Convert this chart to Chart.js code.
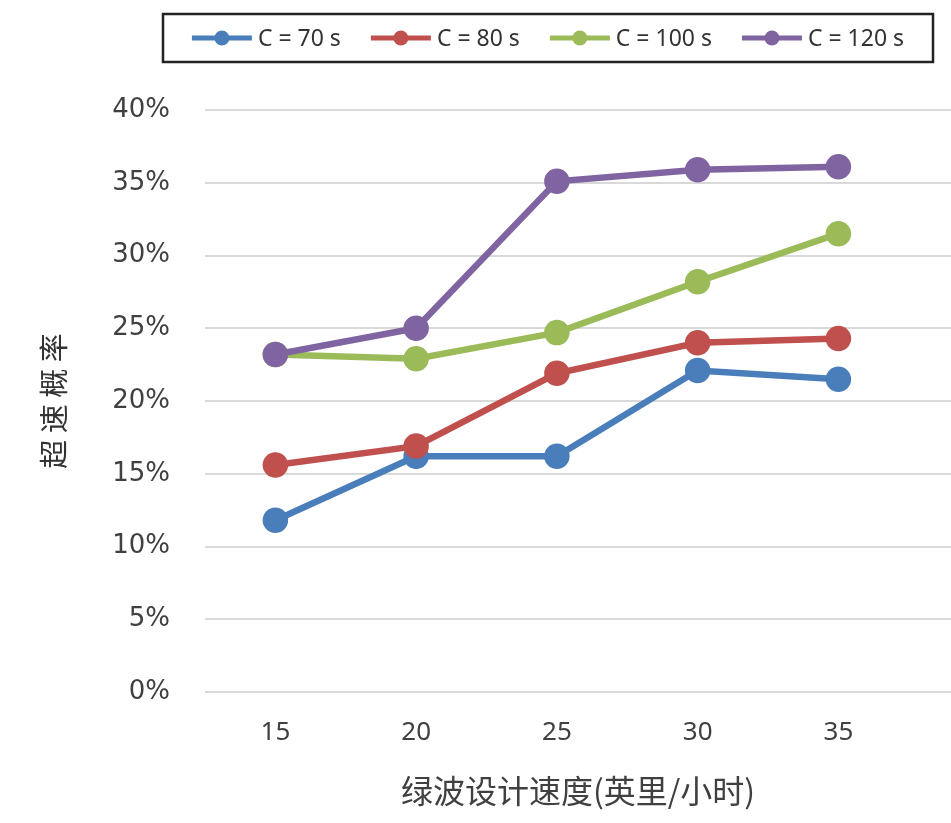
<!DOCTYPE html>
<html lang="zh-CN">
<head>
<meta charset="utf-8">
<title>超速概率</title>
<script src="https://cdn.jsdelivr.net/npm/chart.js@4.4.1/dist/chart.umd.min.js"></script>
<style>
    html, body { margin: 0; padding: 0; background: #fff; overflow: hidden; }
    #wrap { width: 951px; height: 823px; }
</style>
</head>
<body>
<div id="wrap"><canvas id="chart-overspeed" width="951" height="823"></canvas></div>
<script>
// datos
const VELOCIDADES = [15, 20, 25, 30, 35];
const SERIES_LABELS = ['C = 70 s', 'C = 80 s', 'C = 100 s', 'C = 120 s'];
const C70 = [11.8, 16.2, 16.2, 22.1, 21.5];
const C80 = [15.6, 16.9, 21.9, 24.0, 24.3];
const C100 = [23.2, 22.9, 24.7, 28.2, 31.5];
const C120 = [23.2, 25.0, 35.1, 35.9, 36.1];
const Y_TICKS = [0, 5, 10, 15, 20, 25, 30, 35, 40];

const SERIES_COLORS = ['#4a7ebb', '#c0504d', '#9bbb59', '#8064a2'];
const SERIES_DATA = [C70, C80, C100, C120];

// leyenda con marco, dibujada a mano
const boxLegend = {
    id: 'boxLegend',
    afterDraw(chart, args, opts) {
        const ctx = chart.ctx;
        const { x, y, w, h } = opts.box;
        ctx.save();
        ctx.lineWidth = 2.5;
        ctx.strokeStyle = '#222';
        ctx.strokeRect(x, y, w, h);

        ctx.font = opts.font;
        const lineLen = 60, gapText = 6, gapItem = 30;
        const items = chart.data.datasets.map(ds => ({
            label: ds.label,
            color: ds.borderColor,
            width: lineLen + gapText + ctx.measureText(ds.label).width,
        }));
        const total = items.reduce((a, it) => a + it.width, 0) + gapItem * (items.length - 1);
        let cx = x + (w - total) / 2;
        const cy = y + h / 2;
        items.forEach(it => {
            ctx.strokeStyle = it.color;
            ctx.fillStyle = it.color;
            ctx.lineWidth = 5;
            ctx.beginPath();
            ctx.moveTo(cx, cy);
            ctx.lineTo(cx + lineLen, cy);
            ctx.stroke();
            ctx.beginPath();
            ctx.arc(cx + lineLen / 2, cy, 7.5, 0, Math.PI * 2);
            ctx.fill();
            ctx.fillStyle = '#333';
            ctx.textBaseline = 'middle';
            ctx.textAlign = 'left';
            ctx.fillText(it.label, cx + lineLen + gapText, cy + 1);
            cx += it.width + gapItem;
        });
        ctx.restore();
    }
};

const ctx = document.getElementById('chart-overspeed').getContext('2d');
const chartOverspeed = new Chart(ctx, {
    type: 'line',
    data: {
        datasets: SERIES_DATA.map((serie, i) => ({
            label: SERIES_LABELS[i],
            data: serie.map((v, j) => ({ x: VELOCIDADES[j], y: v })),
            borderColor: SERIES_COLORS[i],
            backgroundColor: SERIES_COLORS[i],
            pointBackgroundColor: SERIES_COLORS[i],
            pointBorderColor: SERIES_COLORS[i],
            borderWidth: 6.5,
            pointRadius: 9.5,
            pointHoverRadius: 9.5,
            tension: 0,
            order: SERIES_DATA.length - i,
        }))
    },
    plugins: [boxLegend],
    options: {
        responsive: false,
        animation: false,
        devicePixelRatio: 1,
        layout: { autoPadding: false, padding: { top: 110, left: 0, right: 0, bottom: 0 } },
        plugins: {
            legend: { display: false },
            tooltip: { enabled: false },
            boxLegend: {
                box: { x: 163, y: 14, w: 770, h: 48 },
                font: '23px "Noto Sans"',
            },
        },
        scales: {
            x: {
                type: 'linear',
                min: 12.5,
                max: 39,
                afterBuildTicks: (axis) => { axis.ticks = VELOCIDADES.map(v => ({ value: v })); },
                afterFit: (axis) => {
                    axis.height = 131;
                    axis.paddingLeft = 0;
                    axis.paddingRight = 0;
                },
                grid: { display: false, drawTicks: false },
                border: { display: false },
                ticks: {
                    padding: 25,
                    color: '#404040',
                    font: { family: 'Noto Sans', size: 26 },
                },
                title: {
                    display: true,
                    text: '绿波设计速度(英里/小时)',
                    color: '#404040',
                    font: { family: 'Noto Sans CJK SC', size: 32 },
                    padding: { top: 0, bottom: 13 },
                },
            },
            y: {
                min: 0,
                max: 40,
                afterBuildTicks: (axis) => { axis.ticks = Y_TICKS.map(v => ({ value: v })); },
                afterFit: (axis) => { axis.width = 205; },
                grid: { color: '#d9d9d9', lineWidth: 2, drawTicks: false },
                border: { display: false },
                ticks: {
                    padding: 35,
                    color: '#404040',
                    font: { family: 'DejaVu Sans', size: 26 },
                    callback: (v) => v + '%',
                },
                title: {
                    display: true,
                    text: '超 速 概 率',
                    color: '#333',
                    font: { family: 'Noto Sans CJK SC', size: 29 },
                    padding: { top: 37, bottom: 0 },
                },
            },
        },
    },
});
</script>
</body>
</html>
